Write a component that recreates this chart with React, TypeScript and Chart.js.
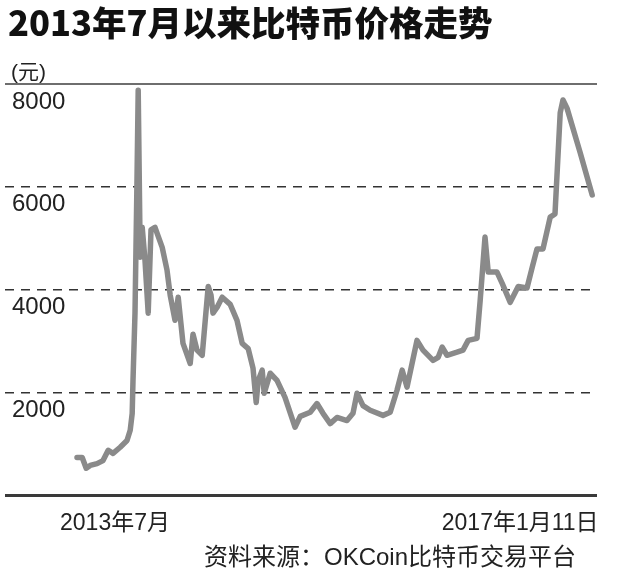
import React, { useEffect, useRef } from 'react';
import { Chart, registerables } from 'chart.js';

Chart.register(...registerables);

const TITLE = '2013年7月以来比特币价格走势';
const UNIT = '(元)';
const SOURCE = '资料来源：OKCoin比特币交易平台';

// days since start of series (approximate)
const dayIndex = [
  0, 13, 23, 33, 50, 65, 78, 90, 108, 125, 133, 138, 140, 145, 150, 153,
  158, 163, 170, 178, 185, 195, 213, 225, 233, 245, 253, 265, 283, 290, 300,
  313, 328, 335, 340, 350, 363, 383, 400, 413, 428, 440, 448, 453, 463, 468,
  483, 500, 520, 545, 558, 583, 600, 615, 633, 650, 675, 690, 700, 715, 733,
  765, 783, 800, 813, 825, 850, 865, 890, 903, 913, 925, 950, 965, 978, 1000,
  1008, 1020, 1028, 1050, 1063, 1083, 1103, 1125, 1138, 1150, 1165, 1183,
  1195, 1208, 1215, 1225, 1258, 1288,
];

// price in yuan
const priceYuan = [
  730, 730, 520, 575, 610, 670, 870, 810, 930, 1060, 1260, 1590, 2230, 3540,
  6130, 7880, 4630, 5210, 4570, 3540, 5160, 5210, 4820, 4380, 3890, 3400,
  3850, 2950, 2560, 3130, 2820, 2720, 4060, 3890, 3540, 3650, 3850, 3710,
  3400, 2950, 2850, 2470, 1800, 2230, 2430, 1980, 2370, 2230, 1900, 1320,
  1530, 1610, 1780, 1590, 1390, 1510, 1450, 1590, 1980, 1740, 1650, 1550,
  1610, 2040, 2430, 2100, 3010, 2820, 2620, 2680, 2880, 2720, 2780, 2820,
  3010, 3050, 3790, 5020, 4340, 4340, 4120, 3750, 4060, 4030, 4430, 4790,
  4790, 5410, 5470, 7440, 7690, 7530, 6660, 5840,
];

const xTickDays = [95, 1108];
const xTickLabels = ['2013年7月', '2017年1月11日'];
const yTickValues = [0, 2000, 4000, 6000, 8000];
const yTickLabels = ['', '2000', '4000', '6000', '8000'];

const FONT = "'Liberation Sans', 'Noto Sans CJK SC', sans-serif";

export default function App() {
  const canvasRef = useRef<HTMLCanvasElement | null>(null);

  useEffect(() => {
    document.body.style.margin = '0';
    document.body.style.background = '#ffffff';
    const canvas = canvasRef.current;
    if (!canvas) return;
    const chart = new Chart(canvas, {
      type: 'line',
      data: {
        datasets: [
          {
            data: dayIndex.map((d, i) => ({ x: d, y: priceYuan[i] })),
            borderColor: '#8a8a8a',
            borderWidth: 5.5,
            pointRadius: 0,
            tension: 0,
            fill: false,
            borderJoinStyle: 'round',
            borderCapStyle: 'round',
          },
        ],
      },
      options: {
        responsive: false,
        animation: false,
        layout: { padding: { top: 84, right: 33, bottom: 41, left: 0 } },
        plugins: {
          legend: { display: false },
          tooltip: { enabled: false },
        },
        scales: {
          x: {
            type: 'linear',
            min: -180,
            max: 1300,
            grid: { display: false },
            border: { display: false },
            afterBuildTicks: (s: any) => {
              s.ticks = xTickDays.map((v) => ({ value: v }));
            },
            afterFit: (s: any) => {
              s.height = 40;
            },
            ticks: {
              autoSkip: false,
              maxRotation: 0,
              padding: 7,
              color: '#222',
              font: { family: FONT, size: 23 },
              callback: (_v: any, i: number) => xTickLabels[i],
            },
          },
          y: {
            min: 0,
            max: 8000,
            afterBuildTicks: (s: any) => {
              s.ticks = yTickValues.map((v) => ({ value: v }));
            },
            afterFit: (s: any) => {
              s.width = 5;
            },
            border: {
              display: false,
              dash: (ctx: any) =>
                ctx.tick && ctx.tick.value > 0 && ctx.tick.value < 8000 ? [9, 7] : [],
            },
            grid: {
              drawTicks: false,
              color: (ctx: any) => {
                const v = ctx.tick ? ctx.tick.value : 0;
                if (v === 0) return '#3a3a3a';
                if (v === 8000) return '#6e6e6e';
                return '#333333';
              },
              lineWidth: (ctx: any) => {
                const v = ctx.tick ? ctx.tick.value : 0;
                if (v === 0) return 3;
                if (v === 8000) return 2;
                return 1.5;
              },
            },
            ticks: {
              mirror: true,
              padding: 7,
              labelOffset: 18,
              color: '#222',
              font: { family: FONT, size: 24 },
              callback: (_v: any, i: number) => yTickLabels[i],
            },
          },
        },
      },
    } as any);
    return () => chart.destroy();
  }, []);

  return (
    <div style={{ position: 'relative', width: 630, height: 576, background: '#fff', overflow: 'hidden' }}>
      <canvas ref={canvasRef} width={630} height={576} style={{ position: 'absolute', left: 0, top: 0, width: 630, height: 576 }} />
      <div
        style={{
          position: 'absolute', left: 8, top: 4, fontFamily: "'Noto Sans CJK SC', sans-serif",
          fontWeight: 900, fontSize: 34.5, lineHeight: '35px', color: '#111', whiteSpace: 'nowrap',
        }}
      >
        {TITLE}
      </div>
      <div
        style={{
          position: 'absolute', left: 11, top: 61, fontFamily: FONT, fontSize: 21,
          lineHeight: '21px', color: '#222', whiteSpace: 'nowrap',
        }}
      >
        {UNIT}
      </div>
      <div
        style={{
          position: 'absolute', left: 204, top: 545, fontFamily: FONT, fontSize: 24,
          lineHeight: '24px', color: '#222', whiteSpace: 'nowrap',
        }}
      >
        {SOURCE}
      </div>
    </div>
  );
}
